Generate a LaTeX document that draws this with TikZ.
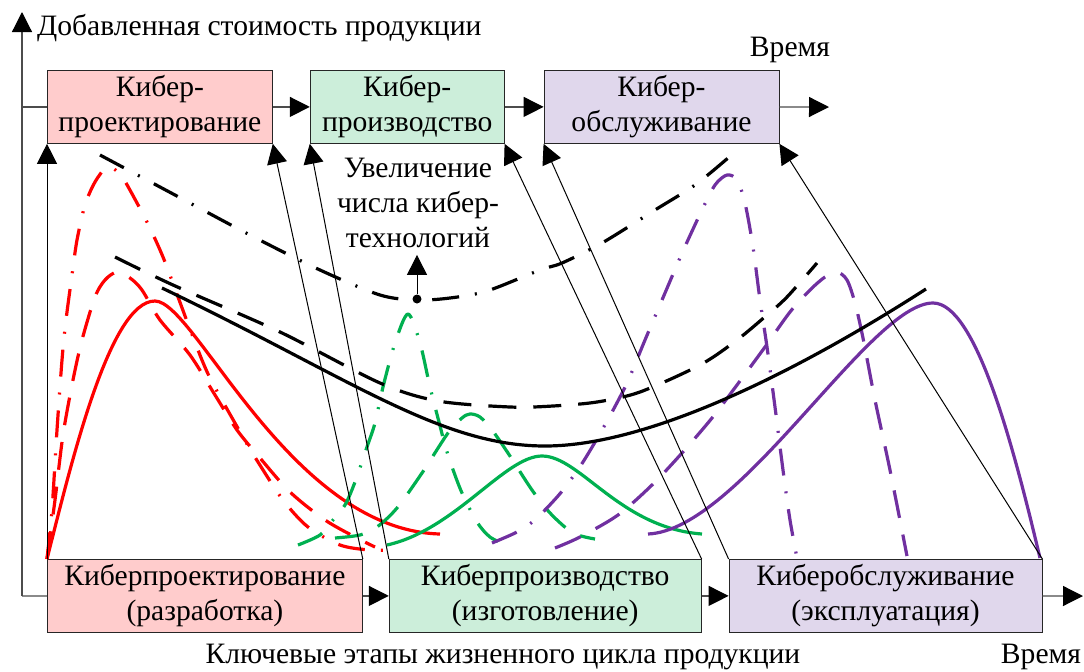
\documentclass[tikz,border=0pt]{standalone}
\usepackage{fontspec}
\setmainfont{LiberationSerif}[Extension=.ttf,UprightFont=*-Regular,BoldFont=*-Bold]
\usepackage{tikz}
\usetikzlibrary{arrows.meta,positioning}
\definecolor{rosa}{RGB}{255,204,204}
\definecolor{mint}{RGB}{204,238,218}
\definecolor{flieder}{RGB}{224,215,236}
\definecolor{gruen}{RGB}{0,176,80}
\definecolor{lila}{RGB}{112,48,160}
\tikzset{
    %Define standard arrow tip
    >={Triangle[length=10pt,width=10pt,color=black]},
    %Define style for stage boxes
    etappe/.style={
           rectangle,
           draw=black!85,
           inner sep=0pt,
           minimum height=36.5pt,
           align=center},
    % Define axis and time line style
    achse/.style={
           draw=black!70,
           line width=0.6pt},
    % Define thin arrow style
    verbinder/.style={
           ->,
           draw=black,
           line width=0.5pt},
    % Define curve styles
    kurve/.style={line width=1.6pt, line join=round},
    gestrichelt/.style={kurve, dash pattern=on 14pt off 8.5pt},
    strichpunkt/.style={kurve, dash pattern=on 13.5pt off 8pt on 1pt off 8pt}
}

\begin{document}
\begin{tikzpicture}[x={(0.5pt,0)},y={(0,-0.5pt)},font=\fontsize{14.8}{17.5}\selectfont]
  \useasboundingbox (0,0) rectangle (1084,671);
  % stages, upper row
  \node[etappe, fill=rosa, minimum width=112.5pt, anchor=north west] (k1) at (47,70) {Кибер-\\проектирование};
  \node[etappe, fill=mint, minimum width=97pt] (k2) [right=18.5pt of k1] {Кибер-\\производство};
  \node[etappe, fill=flieder, minimum width=117.5pt] (k3) [right=19.5pt of k2] {Кибер-\\обслуживание};
  % stages, lower row
  \node[etappe, fill=rosa, minimum width=157.5pt, anchor=north west] (e1) at (47,559) {Киберпроектирование\\(разработка)};
  \node[etappe, fill=mint, minimum width=156pt] (e2) [right=13pt of e1] {Киберпроизводство\\(изготовление)};
  \node[etappe, fill=flieder, minimum width=156.5pt] (e3) [right=13.5pt of e2] {Киберобслуживание\\(эксплуатация)};

  % axes
  \coordinate (o) at (22,596);
  \coordinate (ospitze) at (22,12);
  \coordinate (zoben) at (829,107);
  \coordinate (zunten) at (1083,596);
  \draw[achse,->] (o) -- (ospitze);
  \draw[achse] (o) -- (e1);
  \draw[achse] (o |- k1.west) -- (k1);
  \draw[achse,->] (k1) -- (k2);
  \draw[achse,->] (k2) -- (k3);
  \draw[achse,->] (k3) -- (zoben);
  \draw[achse,->] (e1) -- (e2);
  \draw[achse,->] (e2) -- (e3);
  \draw[achse,->] (e3) -- (zunten);

  \node[anchor=west] (ywert) at (30,28) {Добавленная стоимость продукции};
  \node (zeit1) at (790,50) {Время};
  \node (zeit2) at (1041,657) {Время};
  \node (etappen) at (503,657) {Ключевые этапы жизненного цикла продукции};

  % red
  \draw[kurve, red] (47,559) .. controls (72,460) and (110,301) .. (155,301) .. controls (195,301) and (290,530) .. (440,534);
  \draw[gestrichelt, red] plot[smooth] coordinates {(47,559) (55,500) (63,435) (73,380) (82,340) (95,297) (105,280) (117,272) (130,278) (142,290) (160,320) (190,355) (215,395) (237,430) (260,458) (290,492) (325,520) (357,538) (375,547)};
  \draw[strichpunkt, red] plot[smooth] coordinates {(47,559) (52,510) (57,430) (62,360) (66,320) (72,275) (77,240) (85,205) (95,182) (107,167) (118,172) (126,183) (147,222) (163,257) (178,297) (193,337) (210,378) (243,437) (258,462) (283,500) (308,527) (340,545) (370,550) (398,550)};
  % green
  \draw[kurve, gruen] (387,545) .. controls (455,530) and (505,456) .. (542,456) .. controls (580,456) and (620,528) .. (702,534);
  \draw[gestrichelt, gruen] plot[smooth] coordinates {(335,538) (360,535) (377,527) (397,508) (422,473) (448,433) (462,418) (470,414) (480,417) (492,430) (508,453) (532,490) (551,514) (573,533) (595,539)};
  \draw[strichpunkt, gruen] plot[smooth] coordinates {(298,545) (320,535) (333,520) (345,505) (355,482) (367,447) (375,423) (383,387) (395,343) (408,314) (420,343) (430,387) (439,422) (445,445) (451,464) (462,493) (477,522) (490,537) (508,546)};
  % purple
  \draw[kurve, lila] (648,534) .. controls (740,530) and (870,303) .. (933,303) .. controls (975,303) and (1012,440) .. (1040,558);
  \draw[gestrichelt, lila] plot[smooth] coordinates {(555,548) (580,537) (618,515) (652,485) (682,453) (712,418) (737,385) (765,347) (790,312) (810,290) (825,277) (837,272) (847,280) (855,303) (863,338) (875,400) (890,470) (907,556)};
  \draw[strichpunkt, lila] plot[smooth] coordinates {(492,543) (515,533) (531,523) (545,510) (563,490) (583,462) (606,423) (627,383) (645,340) (665,293) (683,251) (702,210) (715,185) (727,175) (737,180) (745,203) (753,247) (760,300) (767,347) (775,407) (783,470) (790,520) (797,558)};
  % black
  \draw[kurve] (162,288) .. controls (350,378) and (440,446) .. (545,446) .. controls (650,446) and (800,370) .. (926,289);
  \draw[gestrichelt] plot[smooth] coordinates {(115,257) (173,285) (280,332) (380,383) (438,401) (510,407) (553,406) (597,402) (640,392) (700,365) (737,340) (767,315) (787,297) (817,263)};
  \draw[strichpunkt] plot[smooth] coordinates {(100,155) (175,195) (250,235) (320,270) (380,295) (417,300) (450,298) (487,291) (540,270) (562,263) (602,243) (655,210) (695,185) (728,158)};

  \node[align=center] (zunahme) at (418,203) {Увеличение\\числа кибер-\\технологий};
  \node[circle, fill, inner sep=0pt, minimum size=4.5pt] (punkt) at (417,299) {};
  \draw[verbinder] (punkt) -- (punkt |- zunahme.south);

  \draw[verbinder] (e1.north west) -- (k1.south west);
  \draw[verbinder] (e1.north east) -- (k1.south east);
  \draw[verbinder] (e2.north west) -- (k2.south west);
  \draw[verbinder] (e2.north east) -- (k2.south east);
  \draw[verbinder] (e3.north west) -- (k3.south west);
  \draw[verbinder] (e3.north east) -- (k3.south east);
\end{tikzpicture}
\end{document}
